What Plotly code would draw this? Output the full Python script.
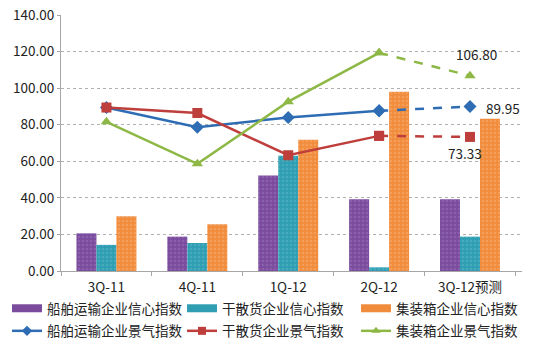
import plotly.graph_objects as go

categories = ["3Q-11", "4Q-11", "1Q-12", "2Q-12", "3Q-12预测"]
ship_conf = [20.6, 18.8, 52.2, 39.2, 39.2]
bulk_conf = [14.3, 15.3, 63.0, 2.0, 18.8]
cont_conf = [29.9, 25.5, 71.8, 98.0, 83.2]
ship_prosp = [89.4, 78.6, 84.0, 87.6, 89.95]
bulk_prosp = [89.4, 86.4, 63.3, 73.9, 73.33]
cont_prosp = [81.6, 58.6, 92.6, 119.3, 106.80]
y_ticks = [0, 20, 40, 60, 80, 100, 120, 140]

bar_names = ["船舶运输企业信心指数", "干散货企业信心指数", "集装箱企业信心指数"]
line_names = ["船舶运输企业景气指数", "干散货企业景气指数", "集装箱企业景气指数"]
bar_colors = ["#7B4C9E", "#2F9DB2", "#F18C3C"]
bar_dots = ["#9A72B8", "#5FB9C9", "#F6B07A"]
line_colors = ["#2E6DB4", "#BE3E3C", "#8DB846"]
symbols = ["diamond", "square", "triangle-up"]
legend_ids = ["legend", "legend2", "legend3"]

fig = go.Figure()
for name, vals, col, dot in zip(bar_names, [ship_conf, bulk_conf, cont_conf], bar_colors, bar_dots):
    fig.add_trace(go.Bar(x=categories, y=vals, name=name,
                         marker=dict(color=col, line_width=0,
                                     pattern=dict(shape=".", size=4, solidity=0.35,
                                                  fgcolor=dot, bgcolor=col)),
                         showlegend=False))

for name, vals, col, sym in zip(line_names, [ship_prosp, bulk_prosp, cont_prosp], line_colors, symbols):
    fig.add_trace(go.Scatter(x=categories[:4], y=vals[:4], name=name, mode="lines+markers",
                             line=dict(color=col, width=2.5), showlegend=False,
                             marker=dict(symbol=sym, size=10, color=col)))
    fig.add_trace(go.Scatter(x=categories[3:], y=vals[3:], name=name, mode="lines+markers",
                             showlegend=False,
                             line=dict(color=col, width=2.5, dash="dash"),
                             marker=dict(symbol=sym, size=10, color=col)))

# legend entries: one column per legend (bar swatch on top, line below)
for i, lg in enumerate(legend_ids):
    fig.add_trace(go.Scatter(x=[None], y=[None], name=bar_names[i], mode="lines",
                             line=dict(color=bar_colors[i], width=8),
                             legend=lg, legendgroup=f"b{i}", legendrank=1))
    fig.add_trace(go.Scatter(x=[None], y=[None], name=line_names[i], mode="lines+markers",
                             line=dict(color=line_colors[i], width=2.5),
                             marker=dict(symbol=symbols[i], size=8, color=line_colors[i]),
                             legend=lg, legendgroup=f"l{i}", legendrank=2))

font_fam = "Noto Sans CJK SC, Liberation Sans, sans-serif"
ann = [
    (categories[4], cont_prosp[4], f"{cont_prosp[4]:.2f}", 6, 22),
    (categories[4], ship_prosp[4], f"{ship_prosp[4]:.2f}", 33, -1),
    (categories[4], bulk_prosp[4], f"{bulk_prosp[4]:.2f}", -5, -16),
]
for x, y, t, xs, ys in ann:
    fig.add_annotation(x=x, y=y, text=t, showarrow=False, xshift=xs, yshift=ys,
                       font=dict(size=13.5, color="#222", family=font_fam))

W, H = 538, 351
legend_x = [7, 182, 356]
leg_common = dict(orientation="v", yref="container", xref="container",
                  xanchor="left", yanchor="top", y=1 - 293 / H,
                  font=dict(size=13.5, family=font_fam), tracegroupgap=2,
                  itemwidth=30, bgcolor="rgba(0,0,0,0)", traceorder="grouped")
fig.update_layout(
    width=W, height=H,
    margin=dict(l=61, r=16, t=15, b=80, autoexpand=False),
    paper_bgcolor="white", plot_bgcolor="white",
    barmode="group", bargap=0.34, bargroupgap=0,
    font=dict(family=font_fam, size=13.5, color="#222"),
    legend=dict(x=legend_x[0] / W, **leg_common),
    legend2=dict(x=legend_x[1] / W, **leg_common),
    legend3=dict(x=legend_x[2] / W, **leg_common),
    showlegend=True,
)
fig.update_xaxes(showline=True, linecolor="#A6A6A6", linewidth=1,
                 ticks="outside", tickson="boundaries", ticklen=4, tickcolor="#A6A6A6",
                 showgrid=False, tickfont=dict(size=13.5), ticklabelstandoff=4)
fig.update_yaxes(range=[0, 140], tickvals=y_ticks, tickformat=".2f",
                 showline=True, linecolor="#A6A6A6", linewidth=1,
                 ticks="outside", ticklen=3, tickcolor="#A6A6A6",
                 showgrid=True, gridcolor="#B0B0B0", griddash="dot", gridwidth=1,
                 zeroline=False, tickfont=dict(size=13.5))

fig.write_html("out.html")
